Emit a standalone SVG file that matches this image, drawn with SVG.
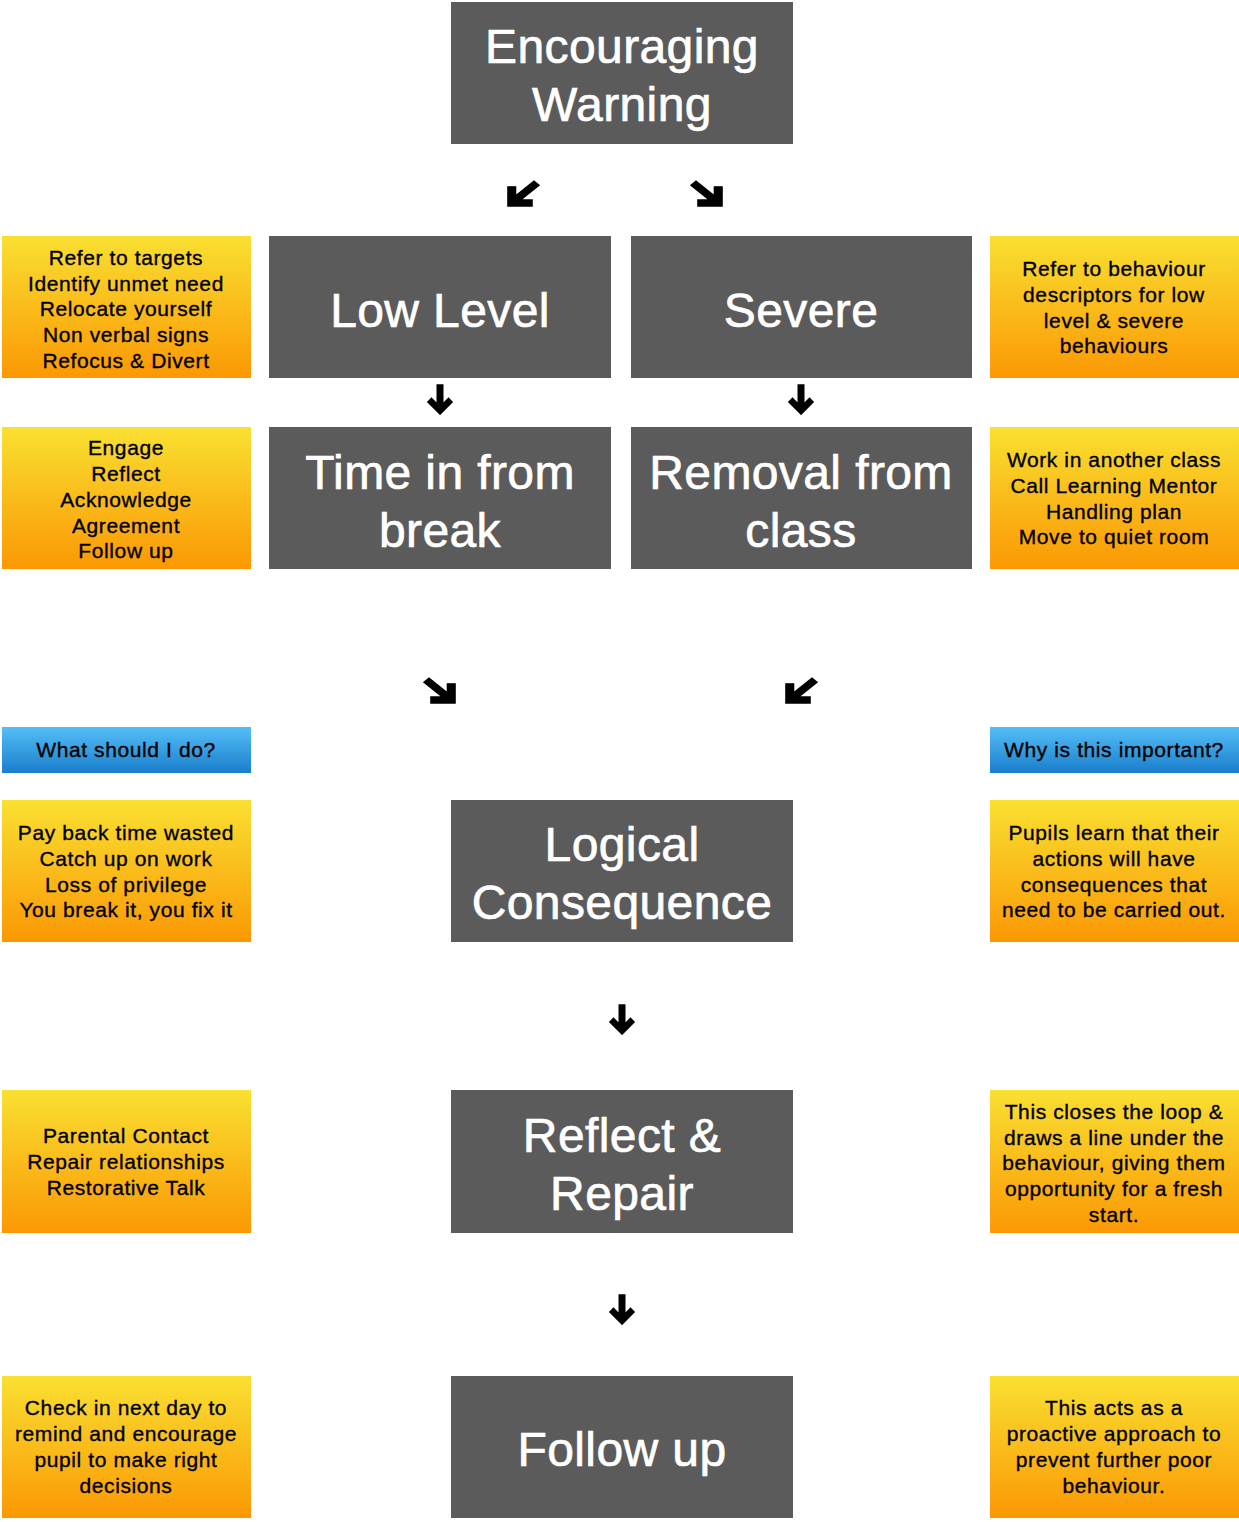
<svg xmlns="http://www.w3.org/2000/svg" width="1239" height="1522" viewBox="0 0 1239 1522">
<defs>
<linearGradient id="og" x1="0" y1="0" x2="0" y2="1">
<stop offset="0" stop-color="#f9e031"/>
<stop offset="1" stop-color="#fb9804"/>
</linearGradient>
<linearGradient id="bg" x1="0" y1="0" x2="0" y2="1">
<stop offset="0" stop-color="#54bef7"/>
<stop offset="1" stop-color="#1a7ecb"/>
</linearGradient>
<path id="ad" d="M0,0 L-12,-12 L-8.5,-15.5 L-2.7,-9.7 L-2.7,-29 L2.7,-29 L2.7,-9.7 L8.5,-15.5 L12,-12 Z"/>
<path id="ag" d="M0,0 L24,0 L24,-7.5 L12.5,-7.5 L31,-26 L26,-31 L7.5,-12.5 L7.5,-24 L0,-24 Z"/>
<style>
.dk{fill:#5b5b5b}
.or{fill:url(#og)}
.bl{fill:url(#bg)}
.big{font-family:"Liberation Sans",Arial,sans-serif;font-size:48px;letter-spacing:0.4px;fill:#fff;stroke:#fff;stroke-width:0.7px;text-anchor:middle}
.sm{font-family:"Liberation Sans",Arial,sans-serif;font-size:21px;letter-spacing:0.6px;fill:#000;stroke:#000;stroke-width:0.35px;text-anchor:middle}
.arr{fill:#000;stroke:#000;stroke-width:1.6px;stroke-linejoin:miter}
</style>
</defs>
<rect width="1239" height="1522" fill="#fff"/>

<g id="encouraging-warning">
<rect class="dk" x="451" y="2" width="342" height="142"/>
<text class="big" x="622" y="63">Encouraging</text>
<text class="big" x="622" y="121">Warning</text>
</g>
<g id="low-level">
<rect class="dk" x="269" y="236" width="342" height="142"/>
<text class="big" x="440" y="327">Low Level</text>
</g>
<g id="severe">
<rect class="dk" x="631" y="236" width="341" height="142"/>
<text class="big" x="801" y="327">Severe</text>
</g>
<g id="time-in-from-break">
<rect class="dk" x="269" y="427" width="342" height="142"/>
<text class="big" x="440" y="489">Time in from</text>
<text class="big" x="440" y="547">break</text>
</g>
<g id="removal-from-class">
<rect class="dk" x="631" y="427" width="341" height="142"/>
<text class="big" x="801" y="489">Removal from</text>
<text class="big" x="801" y="547">class</text>
</g>
<g id="logical-consequence">
<rect class="dk" x="451" y="800" width="342" height="142"/>
<text class="big" x="622" y="861">Logical</text>
<text class="big" x="622" y="919">Consequence</text>
</g>
<g id="reflect-repair">
<rect class="dk" x="451" y="1090" width="342" height="143"/>
<text class="big" x="622" y="1152">Reflect &amp;</text>
<text class="big" x="622" y="1210">Repair</text>
</g>
<g id="follow-up">
<rect class="dk" x="451" y="1376" width="342" height="142"/>
<text class="big" x="622" y="1466">Follow up</text>
</g>

<g id="note-low-level">
<rect class="or" x="2" y="236" width="249" height="142"/>
<text class="sm" x="126" y="265">Refer to targets</text>
<text class="sm" x="126" y="291">Identify unmet need</text>
<text class="sm" x="126" y="316">Relocate yourself</text>
<text class="sm" x="126" y="342">Non verbal signs</text>
<text class="sm" x="126" y="368">Refocus &amp; Divert</text>
</g>
<g id="note-severe">
<rect class="or" x="990" y="236" width="249" height="142"/>
<text class="sm" x="1114" y="276">Refer to behaviour</text>
<text class="sm" x="1114" y="302">descriptors for low</text>
<text class="sm" x="1114" y="328">level &amp; severe</text>
<text class="sm" x="1114" y="353">behaviours</text>
</g>
<g id="note-time-in">
<rect class="or" x="2" y="427" width="249" height="142"/>
<text class="sm" x="126" y="455">Engage</text>
<text class="sm" x="126" y="481">Reflect</text>
<text class="sm" x="126" y="507">Acknowledge</text>
<text class="sm" x="126" y="533">Agreement</text>
<text class="sm" x="126" y="558">Follow up</text>
</g>
<g id="note-removal">
<rect class="or" x="990" y="427" width="249" height="142"/>
<text class="sm" x="1114" y="467">Work in another class</text>
<text class="sm" x="1114" y="493">Call Learning Mentor</text>
<text class="sm" x="1114" y="519">Handling plan</text>
<text class="sm" x="1114" y="544">Move to quiet room</text>
</g>
<g id="header-what">
<rect class="bl" x="2" y="727" width="249" height="46"/>
<text class="sm" x="126" y="757">What should I do?</text>
</g>
<g id="header-why">
<rect class="bl" x="990" y="727" width="249" height="46"/>
<text class="sm" x="1114" y="757">Why is this important?</text>
</g>
<g id="note-logical-left">
<rect class="or" x="2" y="800" width="249" height="142"/>
<text class="sm" x="126" y="840">Pay back time wasted</text>
<text class="sm" x="126" y="866">Catch up on work</text>
<text class="sm" x="126" y="892">Loss of privilege</text>
<text class="sm" x="126" y="917">You break it, you fix it</text>
</g>
<g id="note-logical-right">
<rect class="or" x="990" y="800" width="249" height="142"/>
<text class="sm" x="1114" y="840">Pupils learn that their</text>
<text class="sm" x="1114" y="866">actions will have</text>
<text class="sm" x="1114" y="892">consequences that</text>
<text class="sm" x="1114" y="917">need to be carried out.</text>
</g>
<g id="note-reflect-left">
<rect class="or" x="2" y="1090" width="249" height="143"/>
<text class="sm" x="126" y="1143">Parental Contact</text>
<text class="sm" x="126" y="1169">Repair relationships</text>
<text class="sm" x="126" y="1195">Restorative Talk</text>
</g>
<g id="note-reflect-right">
<rect class="or" x="990" y="1090" width="249" height="143"/>
<text class="sm" x="1114" y="1119">This closes the loop &amp;</text>
<text class="sm" x="1114" y="1145">draws a line under the</text>
<text class="sm" x="1114" y="1170">behaviour, giving them</text>
<text class="sm" x="1114" y="1196">opportunity for a fresh</text>
<text class="sm" x="1114" y="1222">start.</text>
</g>
<g id="note-follow-left">
<rect class="or" x="2" y="1376" width="249" height="142"/>
<text class="sm" x="126" y="1415">Check in next day to</text>
<text class="sm" x="126" y="1441">remind and encourage</text>
<text class="sm" x="126" y="1467">pupil to make right</text>
<text class="sm" x="126" y="1493">decisions</text>
</g>
<g id="note-follow-right">
<rect class="or" x="990" y="1376" width="249" height="142"/>
<text class="sm" x="1114" y="1415">This acts as a</text>
<text class="sm" x="1114" y="1441">proactive approach to</text>
<text class="sm" x="1114" y="1467">prevent further poor</text>
<text class="sm" x="1114" y="1493">behaviour.</text>
</g>

<g id="connectors" class="arr">
<use href="#ag" transform="translate(508,206) scale(1,0.8)"/>
<use href="#ag" transform="translate(722,206) scale(-1,0.8)"/>
<use href="#ad" transform="translate(440,414)"/>
<use href="#ad" transform="translate(801,414)"/>
<use href="#ag" transform="translate(455,703) scale(-1,0.8)"/>
<use href="#ag" transform="translate(786,703) scale(1,0.8)"/>
<use href="#ad" transform="translate(622,1034)"/>
<use href="#ad" transform="translate(622,1324)"/>
</g>
</svg>
